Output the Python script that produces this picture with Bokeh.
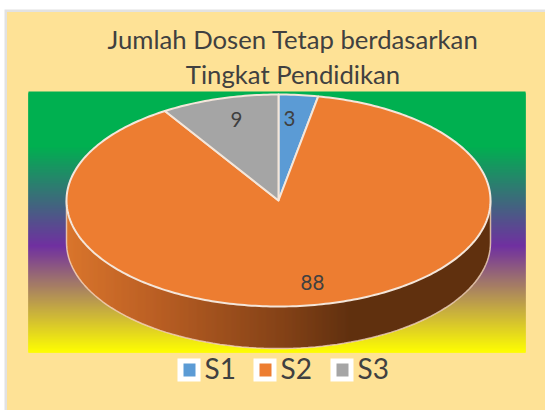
import math
from bokeh.plotting import figure
from bokeh.models import Range1d
from bokeh.core.properties import value
from bokeh.embed import file_html
from bokeh.resources import INLINE

title_lines = ["Jumlah Dosen Tetap berdasarkan", "Tingkat Pendidikan"]
categories = ["S1", "S2", "S3"]
values = [3, 88, 9]
colors = ["#5B9BD5", "#ED7D31", "#A5A5A5"]

W, H = 545, 410
PANEL = "#FEE296"
TEXT = "#404040"
FONT = value("Lato")

p = figure(width=W, height=H, output_backend="svg", toolbar_location=None,
           x_range=Range1d(0, W), y_range=Range1d(H, 0), min_border=0,
           outline_line_color=None, background_fill_color="white",
           border_fill_color="white")
p.axis.visible = False
p.grid.visible = False


def box(l, r, t, b, col):
    p.quad(left=l, right=r, top=t, bottom=b, fill_color=col, fill_alpha=1, line_color=None)


# panel and its soft border
box([4], [W], [9], [H], "#E2E2E2")
box([6.5], [W], [11.5], [H], PANEL)


def hex_rgb(h):
    return tuple(int(h[i:i + 2], 16) for i in (1, 3, 5))


def ramp(t, stops):
    for (t0, c0), (t1, c1) in zip(stops, stops[1:]):
        if t <= t1:
            f = 0 if t1 == t0 else max(0, (t - t0) / (t1 - t0))
            a, b = hex_rgb(c0), hex_rgb(c1)
            return "#%02x%02x%02x" % tuple(round(a[i] + (b[i] - a[i]) * f) for i in range(3))
    return stops[-1][1]


# plot-area background: vertical gradient, green holding flat through the top
GX0, GX1, GY0, GY1 = 28, 525, 91, 352
bg_stops = [(GY0, "#00B050"), (145, "#00B050"), (245, "#7030A0"), (GY1, "#FFFF00")]
ys = list(range(GY0, GY1))
# strips overlap generously so that the panel never shows through their edges
box([GX0] * len(ys), [GX1] * len(ys), ys, [min(y + 3, GY1) for y in ys],
    [ramp(y, bg_stops) for y in ys])

# pie geometry
CX, CY, RX, RY, DEPTH = 278, 200, 212, 106, 42
EDGE = "#F6D9C2"


def pt(deg):
    a = math.radians(deg)
    return CX + RX * math.sin(a), CY - RY * math.cos(a)


def rim(x):
    return CY + RY * math.sqrt(max(0, 1 - ((x - CX) / RX) ** 2))


# side wall: horizontal shading, overlapping strips
side_stops = [(66, "#D9752C"), (150, "#BC6024"), (290, "#804016"), (350, "#60300F"), (490, "#60300F")]
for x in range(CX - RX, CX + RX):
    xa, xb = x, min(x + 3, CX + RX)
    xm = min(x + 1.5, CX + RX)
    p.patch([xa, xm, xb, xb, xm, xa],
            [rim(xa), rim(xm), rim(xb), rim(xb) + DEPTH, rim(xm) + DEPTH, rim(xa) + DEPTH],
            fill_color=ramp(x, side_stops), fill_alpha=1, line_color=None)

# side wall outline
low = [pt(a) for a in range(90, 271, 2)]
p.line([CX + RX] + [q[0] for q in low] + [CX - RX],
       [CY] + [q[1] + DEPTH for q in low] + [CY], line_color=EDGE, line_width=1.5, line_alpha=0.8)

# top-face slices, clockwise from twelve o'clock
total = sum(values)
start = 0.0
for v, col in zip(values, colors):
    sweep = v / total * 360
    n = max(4, int(sweep))
    arc = [pt(start + sweep * i / n) for i in range(n + 1)]
    p.patch([CX] + [q[0] for q in arc], [CY] + [q[1] for q in arc],
            fill_color=col, fill_alpha=1, line_color="#F4E6DA", line_width=2, line_join="round")
    start += sweep


def label(x, y, s, size, align="center"):
    p.text([x], [y], text=[s], text_align=align, text_baseline="middle",
           text_font=FONT, text_font_size=size, text_color=TEXT, text_alpha=1)


# texts
for line, y in zip(title_lines, [38.5, 73]):
    label(292.5, y, line, "25.7px")

label_pos = [(289, 118), (312, 282), (236, 119)]
for v, (x, y) in zip(values, label_pos):
    label(x, y, str(v), "20.5px")

# legend
legend_x = [177, 253, 330]
for c, col, x in zip(categories, colors, legend_x):
    box([x], [x + 23], [358], [381], "white")
    box([x + 6], [x + 18], [363], [376], col)
    label(x + 27, 367.5, c, "28px", "left")

open("out.html", "w").write(file_html(p, INLINE))
